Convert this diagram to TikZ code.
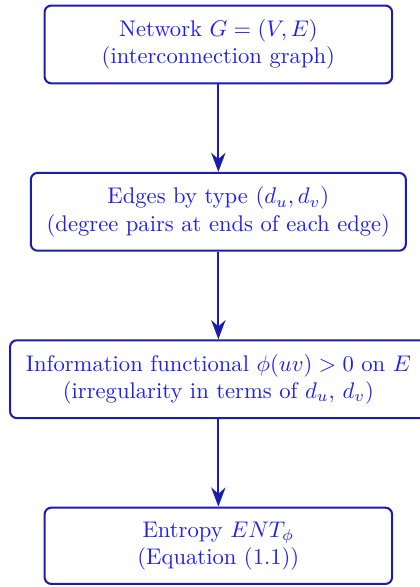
\documentclass[tikz,border=0pt]{standalone}
\usepackage{tikz}
\usetikzlibrary{positioning, arrows.meta}
\definecolor{textBlue}{HTML}{1F1FF0}
\definecolor{borderBlue}{HTML}{1C1CB0}

\begin{document}
\begin{tikzpicture}[
    >={Stealth[scale=1.2]},
    box/.style={
        draw=borderBlue, rounded corners=3pt, align=center, inner xsep=7pt, inner ysep=6.2pt,
        line width=0.9pt, text=textBlue, minimum width=5.4cm
    },
    flow/.style={->, line width=0.9pt, draw=borderBlue}
]

\node[box] (network) at (0, 0) {Network $G=(V,E)$\\(interconnection graph)};
\node[box, below=1.36cm of network] (edges) {Edges by type $(d_u, d_v)$\\(degree pairs at ends of each edge)};
\node[box, below=1.36cm of edges] (info) {Information functional $\phi(uv)>0$ on $E$\\(irregularity in terms of $d_u$, $d_v$)};
\node[box, below=1.36cm of info] (entropy) {Entropy $ENT_\phi$\\(Equation (1.1))};

\draw[flow] (network) -- (edges);
\draw[flow] (edges) -- (info);
\draw[flow] (info) -- (entropy);

% right side of the third box runs off the page
\pgfresetboundingbox
\useasboundingbox ([xshift=-4pt]info.west |- network.north) ++(0, 2pt)
    rectangle ([xshift=-3.6pt, yshift=-0.9pt]info.east |- entropy.south);

\end{tikzpicture}
\end{document}
